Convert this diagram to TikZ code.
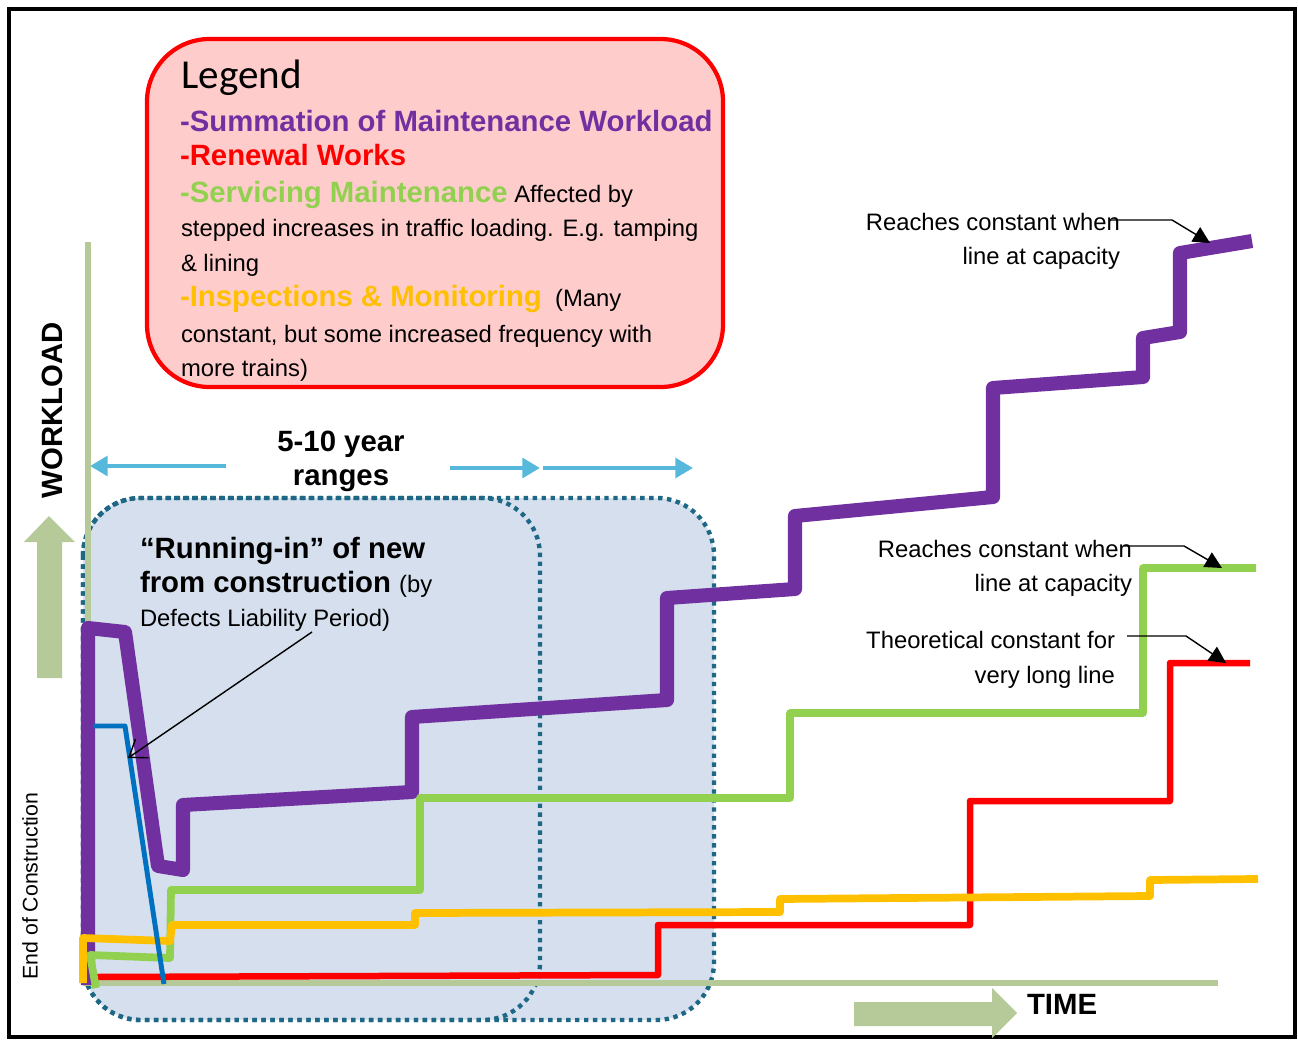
\documentclass[tikz,border=0pt]{standalone}
\usepackage{fontspec}
\setmainfont{Liberation Sans}
\newfontfamily\legendfont{Carlito}
\usetikzlibrary{arrows.meta}

\definecolor{wlpurple}{RGB}{112,48,160}
\definecolor{wlred}{RGB}{255,0,0}
\definecolor{wlgreen}{RGB}{146,208,80}
\definecolor{wlyellow}{RGB}{255,192,0}
\definecolor{wlblue}{RGB}{0,112,192}
\definecolor{axisgreen}{RGB}{181,202,152}
\definecolor{legendpink}{RGB}{255,204,204}
\definecolor{rangefill}{RGB}{213,223,237}
\definecolor{rangeedge}{RGB}{30,104,134}
\definecolor{rangearrow}{RGB}{86,185,220}

\newcommand\regtxt{\fontsize{13.55}{16}\selectfont}
\newcommand\boldtxt{\fontsize{16.7}{19}\selectfont\bfseries}
\newcommand\smalltxt{\fontsize{12.1}{14}\selectfont}

\begin{document}
\begin{tikzpicture}[x=0.02cm,y=-0.02cm,
  txt/.style={inner sep=0pt,outer sep=0pt,font=\regtxt},
  btxt/.style={inner sep=0pt,outer sep=0pt,font=\boldtxt},
  rangebox/.style={rangeedge,line width=2.5pt,dash pattern=on 2.5pt off 2.6pt,rounded corners=1.15cm},
  rangearr/.style={rangearrow,line width=2.8pt,-{Triangle[length=10pt,width=11pt]}},
  callout/.style={black,line width=0.8pt,-{Triangle[length=9.5pt,width=9.5pt]}},
  series/.style={line join=round,line cap=butt}]

% page and frame
\useasboundingbox (0,0) rectangle (1298,1040);
\draw[black,line width=2.4pt] (9,9) rectangle (1295,1037);

% legend panel
\draw[wlred,fill=legendpink,line width=2.4pt,rounded corners=1.25cm] (147,39) rectangle (723,387);
\node[inner sep=0pt,anchor=base west,font=\legendfont\fontsize{23.4}{28}\selectfont] (lgtitle) at (181,89) {Legend};
\node[btxt,anchor=base west,text=wlpurple] (lgsum) at (180,132) {-Summation of Maintenance Workload};
\node[btxt,anchor=base west,text=wlred] (lgren) at (180,166) {-Renewal Works};
\node[txt,anchor=base west] (lgserv) at (180,203) {{\boldtxt\color{wlgreen}-Servicing Maintenance} Affected by};
\node[txt,anchor=base west] (lgserv2) at (181,237) {stepped increases in traffic loading. E.g. tamping};
\node[txt,anchor=base west] (lgserv3) at (181,272) {\& lining};
\node[txt,anchor=base west] (lginsp) at (180,307) {{\boldtxt\color{wlyellow}-Inspections \& Monitoring}\ \ (Many};
\node[txt,anchor=base west] (lginsp2) at (181,343) {constant, but some increased frequency with};
\node[txt,anchor=base west] (lginsp3) at (181,377) {more trains)};

% shaded year ranges
\fill[rangefill,rounded corners=1.15cm] (83,498) rectangle (714,1020);
\draw[rangebox] (83,498) rectangle (540,1020);
\draw[rangebox] (83,498) rectangle (714,1020);

% axes
\draw[axisgreen,line width=3pt] (88,242) -- (88,985);
\draw[axisgreen,line width=3.4pt] (83,983) -- (1218,983);

% big direction arrows
\fill[axisgreen] (37,678) -- (62,678) -- (62,542) -- (75,542) -- (49,516) -- (24,542) -- (37,542) -- cycle;
\fill[axisgreen] (854,1002) -- (992,1002) -- (992,988) -- (1017,1013) -- (992,1038) -- (992,1026) -- (854,1026) -- cycle;

% workload series
\draw[series,wlpurple,line width=8pt] (88,985) -- (88,628) -- (125,632) -- (158,866) -- (183,870) -- (183,805) -- (412,792) -- (412,717) -- (667,700) -- (667,598) -- (795,589) -- (795,516) -- (993,497) -- (993,388) -- (1143,377) -- (1143,338) -- (1180,332) -- (1180,253) -- (1252,241);
\draw[series,wlred,line width=3.7pt] (97,977) -- (658,975) -- (658,925) -- (970,925) -- (970,801) -- (1170,801) -- (1170,663) -- (1250,663);
\draw[series,wlgreen,line width=4.4pt] (96,988) -- (90,955) -- (170,958) -- (171,890) -- (420,890) -- (420,798) -- (790,798) -- (790,713) -- (1143,713) -- (1143,568) -- (1256,568);
\draw[series,wlyellow,line width=4.4pt] (83,983) -- (83,938) -- (170,941) -- (172,925) -- (415,925) -- (415,913) -- (780,912) -- (780,899) -- (1150,896) -- (1150,880) -- (1258,879);
\draw[series,wlblue,line width=2.8pt] (93,726) -- (125,726) -- (164,984);

% axis labels
\node[btxt,rotate=90] (workload) at (52,410) {WORKLOAD};
\node[inner sep=0pt,font=\smalltxt,rotate=90] (endcon) at (30,886) {End of Construction};
\node[btxt,anchor=base west] (time) at (1027,1014) {TIME};

% range arrows and caption
\coordinate (ra1s) at (226,466);
\coordinate (ra1e) at (90,466);
\coordinate (ra2s) at (450,468);
\coordinate (ra2e) at (540,468);
\coordinate (ra3s) at (543,468);
\coordinate (ra3e) at (693,468);
\draw[rangearr] (ra1s) -- (ra1e);
\draw[rangearr] (ra2s) -- (ra2e);
\draw[rangearr] (ra3s) -- (ra3e);
\node[btxt,anchor=base] (yr1) at (341,451) {5-10 year};
\node[btxt,anchor=base] (yr2) at (341,485) {ranges};

% running-in note
\node[btxt,anchor=base west] (run1) at (140,558) {“Running-in” of new};
\node[btxt,anchor=base west] (run2) at (140,592) {from construction {\regtxt\mdseries(by}};
\node[txt,anchor=base west] (run3) at (140,626) {Defects Liability Period)};
\coordinate (runtip) at (128,758);
\draw[black,line width=0.8pt,-{Straight Barb[length=9pt,width=13pt]}] (312,632) -- (runtip);

% capacity callouts
\node[txt,anchor=base east] (cap1a) at (1120,231) {Reaches constant when};
\node[txt,anchor=base east] (cap1b) at (1120,265) {line at capacity};
\coordinate (cap1s) at (1110,220);
\coordinate (cap1m) at (1172,220);
\coordinate (cap1t) at (1210,243);
\draw[callout] (cap1s) -- (cap1m) -- (cap1t);

\node[txt,anchor=base east] (cap2a) at (1132,557) {Reaches constant when};
\node[txt,anchor=base east] (cap2b) at (1132,591) {line at capacity};
\coordinate (cap2s) at (1123,546);
\coordinate (cap2m) at (1184,546);
\coordinate (cap2t) at (1222,568);
\draw[callout] (cap2s) -- (cap2m) -- (cap2t);

\node[txt,anchor=base east] (cap3a) at (1115,648) {Theoretical constant for};
\node[txt,anchor=base east] (cap3b) at (1115,683) {very long line};
\coordinate (cap3s) at (1127,636);
\coordinate (cap3m) at (1186,636);
\coordinate (cap3t) at (1226,663);
\draw[callout] (cap3s) -- (cap3m) -- (cap3t);
\end{tikzpicture}
\end{document}
